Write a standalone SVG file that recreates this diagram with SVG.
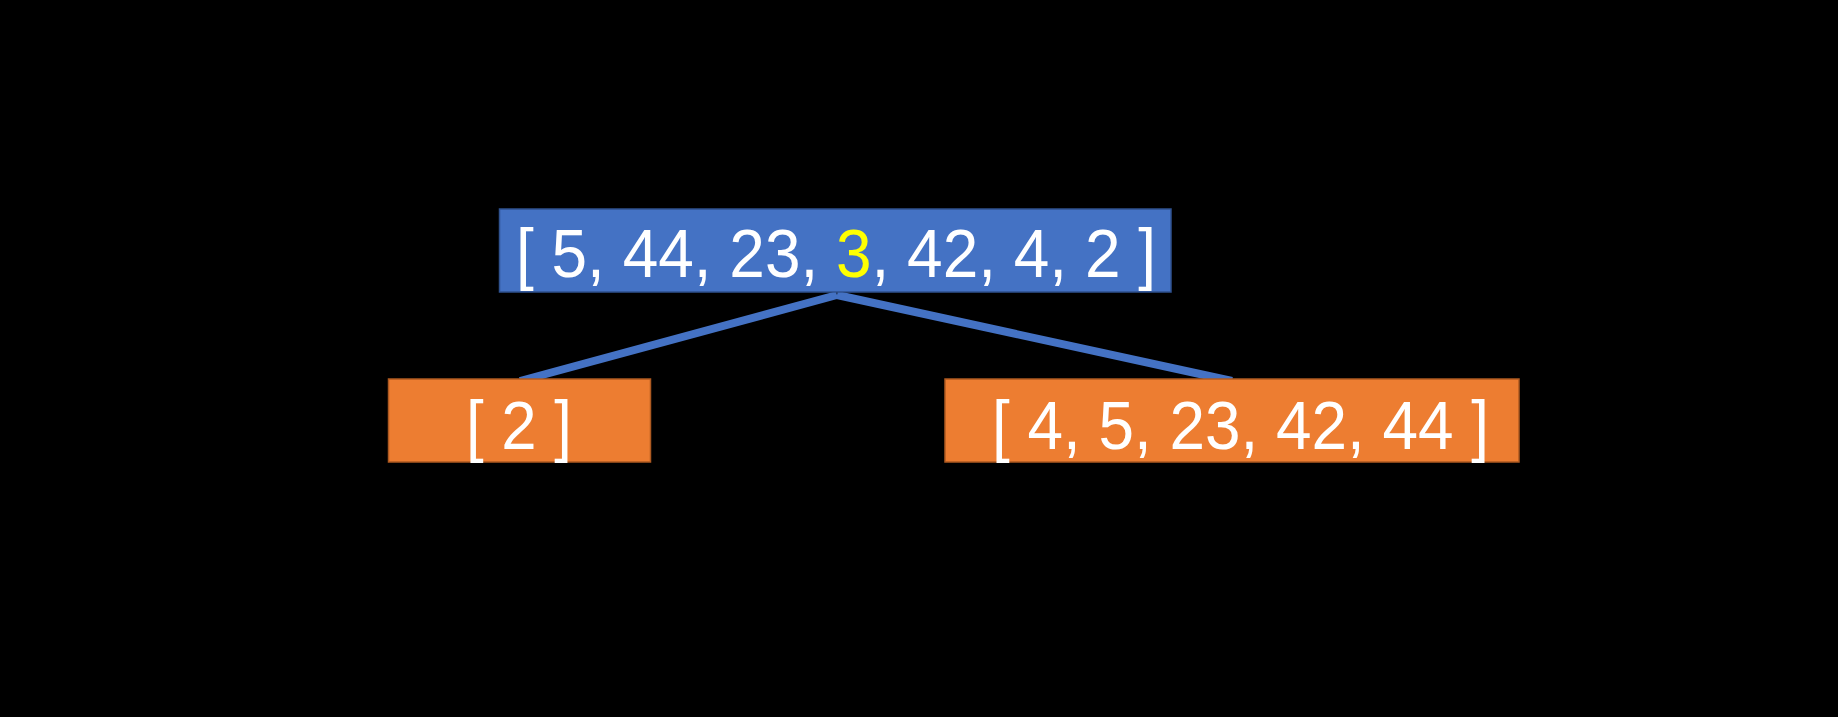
<svg xmlns="http://www.w3.org/2000/svg" width="1838" height="717" viewBox="0 0 1838 717">
<style>
.bg{fill:#000}
.blue{fill:#4472C4;stroke:#2F528F;stroke-width:1.5}
.orange{fill:#ED7D31;stroke:#AE5A21;stroke-width:1.5}
.lbl{font-family:"Liberation Sans",Arial,sans-serif;font-size:68px;fill:#fff}
.hl{fill:#FFFF00}
.edge{stroke:#4472C4;stroke-width:8;fill:none}
</style>
<rect class="bg" x="0" y="0" width="1838" height="717"/>
<g id="connectors">
<line class="edge" x1="837" y1="295" x2="520" y2="381"/>
<line class="edge" x1="837" y1="295" x2="1232" y2="381"/>
</g>
<g id="root">
<rect class="blue" x="499.5" y="209" width="671.5" height="83"/>
<text class="lbl" x="516" y="277" textLength="640" lengthAdjust="spacingAndGlyphs">[ 5, 44, 23, <tspan class="hl">3</tspan>, 42, 4, 2 ]</text>
</g>
<g id="left">
<rect class="orange" x="388.5" y="379" width="262" height="83"/>
<text class="lbl" x="466" y="449" textLength="106" lengthAdjust="spacingAndGlyphs">[ 2 ]</text>
</g>
<g id="right">
<rect class="orange" x="945" y="379" width="574" height="83"/>
<text class="lbl" x="992" y="449" textLength="497" lengthAdjust="spacingAndGlyphs">[ 4, 5, 23, 42, 44 ]</text>
</g>
</svg>
